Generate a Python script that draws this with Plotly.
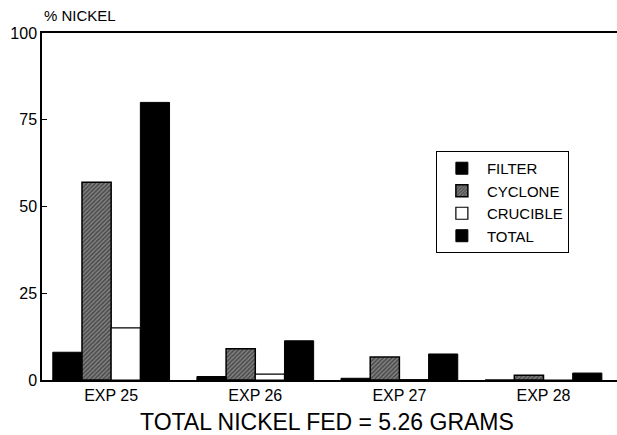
import plotly.graph_objects as go

categories = ["EXP 25", "EXP 26", "EXP 27", "EXP 28"]
filter_vals = [8, 1, 0.5, 0]
cyclone_vals = [57, 9, 6.6, 1.4]
crucible_vals = [15, 1.7, 0.1, 0]
total_vals = [80, 11.3, 7.5, 2]
y_ticks = [0, 25, 50, 75, 100]

FONT = "Liberation Sans, Arial, sans-serif"

fig = go.Figure()
fig.add_trace(go.Bar(name="FILTER", x=categories, y=filter_vals,
                     marker=dict(color="black", line=dict(color="black", width=1))))
fig.add_trace(go.Bar(name="CYCLONE", x=categories, y=cyclone_vals,
                     marker=dict(color="#666666", line=dict(color="black", width=1.5),
                                 pattern=dict(shape="/", size=3, solidity=0.6,
                                              fgcolor="#111111", bgcolor="#8a8a8a"))))
fig.add_trace(go.Bar(name="CRUCIBLE", x=categories, y=crucible_vals,
                     marker=dict(color="white", line=dict(color="black", width=1.2))))
fig.add_trace(go.Bar(name="TOTAL", x=categories, y=total_vals,
                     marker=dict(color="black", line=dict(color="black", width=1))))

fig.update_layout(
    width=617, height=435,
    margin=dict(l=42, r=0, t=33, b=55),
    paper_bgcolor="white", plot_bgcolor="white",
    barmode="group", bargap=0.19, bargroupgap=0,
    font=dict(family=FONT, color="black"),
    showlegend=True,
    legend=dict(x=0.685, y=0.66, xanchor="left", yanchor="top",
                bordercolor="black", borderwidth=1, bgcolor="white",
                font=dict(size=15, family=FONT), tracegroupgap=12,
                itemwidth=40),
    xaxis=dict(range=[-0.48, 3.51], showline=True, mirror=True, linecolor="black",
               linewidth=1.5, ticks="", showgrid=False,
               tickfont=dict(size=16, family=FONT)),
    yaxis=dict(range=[0, 100], tickvals=y_ticks, showline=True, linecolor="black",
               linewidth=1.5, ticks="inside", ticklen=5, tickcolor="black",
               showgrid=False, zeroline=False, tickfont=dict(size=16, family=FONT)),
    annotations=[
        dict(text="% NICKEL", xref="paper", yref="paper", x=0, y=1.0, yshift=18,
             xanchor="left", yanchor="middle", showarrow=False,
             font=dict(size=15, family=FONT)),
        dict(text="TOTAL NICKEL FED = 5.26 GRAMS", xref="paper", yref="paper",
             x=0.495, y=0, yshift=-42, xanchor="center", yanchor="middle", showarrow=False,
             font=dict(size=23, family=FONT)),
    ],
)

fig.write_html("out.html", config={"displayModeBar": False},
               post_script="document.body.style.margin='0';")
